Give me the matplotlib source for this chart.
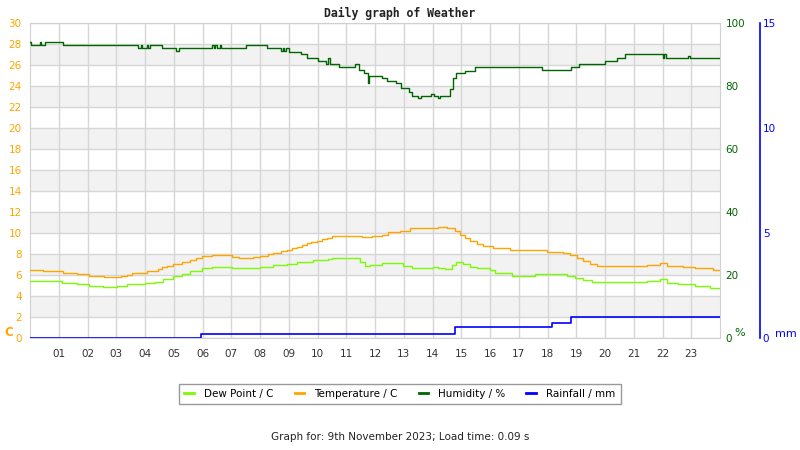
import matplotlib

matplotlib.use('Agg')
import matplotlib.pyplot as plt
from matplotlib.lines import Line2D

# readings, hour of day -> value (step changes)
temp_hours = [0, 0.46, 1.16, 1.62, 2.06, 2.2, 2.57, 3.15, 3.36, 3.54, 4.06, 4.46, 4.58, 4.75, 4.99, 5.28,
              5.57, 5.77, 5.97, 6.32, 7.01, 7.28, 7.48, 7.74, 8.0, 8.29, 8.46, 8.72, 8.93, 9.1, 9.28, 9.45,
              9.62, 9.79, 9.97, 10.14, 10.32, 10.49, 11.54, 11.88, 12.23, 12.46, 12.87, 13.22, 14.2, 14.49,
              14.78, 14.96, 15.13, 15.3, 15.54, 15.77, 16.12, 16.7, 17.97, 18.55, 18.78, 19.01, 19.25, 19.48,
              19.71, 21.45, 21.91, 22.14, 22.72, 23.13, 23.77, 24]
temp_vals = [6.48, 6.35, 6.16, 6.06, 5.93, 5.87, 5.78, 5.90, 6.03, 6.16, 6.35, 6.57, 6.73, 6.89, 7.08, 7.24,
             7.43, 7.62, 7.78, 7.87, 7.75, 7.65, 7.59, 7.75, 7.84, 7.97, 8.10, 8.25, 8.41, 8.54, 8.70, 8.86,
             9.02, 9.17, 9.27, 9.40, 9.56, 9.68, 9.59, 9.68, 9.81, 10.06, 10.22, 10.44, 10.6, 10.44,
             10.19, 9.81, 9.49, 9.24, 8.95, 8.79, 8.54, 8.41, 8.22, 8.10, 7.90, 7.65, 7.37, 7.05,
             6.86, 6.95, 7.11, 6.89, 6.73, 6.63, 6.48, 6.48]

dew_hours = [0, 1.1, 1.62, 2.06, 2.55, 3.01, 3.36, 4.0, 4.35, 4.64, 4.99, 5.28, 5.57, 5.97, 6.32, 7.01,
             7.42, 8.0, 8.46, 8.93, 9.28, 9.86, 10.38, 10.49, 11.48, 11.65, 11.83, 12.23, 12.99, 13.28,
             14.03, 14.2, 14.43, 14.67, 14.82, 15.07, 15.3, 15.54, 16.0, 16.17, 16.75, 17.57, 18.09, 18.67,
             18.96, 19.25, 19.54, 19.83, 21.45, 21.91, 22.14, 22.55, 23.13, 23.65, 24]
dew_vals = [5.43, 5.24, 5.11, 4.95, 4.86, 4.95, 5.11, 5.2, 5.37, 5.62, 5.87, 6.10, 6.38, 6.70, 6.76, 6.70,
            6.63, 6.79, 6.95, 7.05, 7.21, 7.40, 7.49, 7.59, 7.27, 6.89, 6.98, 7.11, 6.86, 6.63,
            6.79, 6.63, 6.54, 6.95, 7.27, 7.02, 6.79, 6.63, 6.48, 6.16, 5.87, 6.06, 6.13, 5.93,
            5.75, 5.52, 5.30, 5.37, 5.46, 5.59, 5.27, 5.14, 4.98, 4.79, 4.79]

hum_hours = [0.0, 0.02, 0.35, 0.39, 0.52, 1.16, 3.74, 3.86, 3.90, 4.06, 4.10, 4.18, 4.58, 5.07, 5.18, 6.33,
             6.40, 6.45, 6.52, 6.60, 6.65, 7.50, 8.23, 8.73, 8.80, 8.85, 8.90, 9.02, 9.42, 9.65, 10.0, 10.31,
             10.38, 10.42, 10.75, 11.30, 11.45, 11.62, 11.77, 11.79, 12.25, 12.43, 12.72, 12.90, 13.18, 13.30,
             13.50, 13.60, 13.95, 14.05, 14.20, 14.25, 14.62, 14.70, 14.80, 15.12, 15.49, 17.80, 18.80, 19.10,
             20.00, 20.40, 20.70, 22.00, 22.05, 22.12, 22.90, 22.95, 24.0]
hum_vals = [94.0, 93.0, 94.0, 93.0, 93.9, 93.0, 92.0, 93.0, 92.0, 93.0, 92.0, 93.0, 92.0, 91.1, 92.0, 93.0,
            92.0, 93.0, 92.0, 93.0, 92.0, 93.0, 92.0, 91.1, 92.0, 91.1, 92.0, 90.9, 90.0, 88.8, 87.8, 87.0,
            88.8, 87.0, 85.9, 86.9, 85.1, 84.2, 81.0, 83.2, 82.4, 81.7, 80.8, 79.5, 78.2, 76.8,
            76.2, 76.8, 77.5, 76.8, 76.2, 76.8, 78.9, 82.4, 84.0, 84.9, 85.9, 85.0, 85.9, 86.9,
            87.8, 88.8, 90.0, 88.9, 90.0, 88.9, 89.6, 88.9, 88.9]

rain_hours = [0, 5.94, 14.78, 18.17, 18.8, 24]
rain_vals = [0, 0.2, 0.5, 0.7, 1.0, 1.0]

hour_labels = ["%02d" % h for h in range(1, 24)]

DEW = '#7cfc00'
TEMP = '#ffa500'
HUM = '#006400'
RAIN = '#0000ff'

plt.rcParams['font.family'] = 'DejaVu Sans'
fig = plt.figure(figsize=(8, 4.5), dpi=100)
ax = fig.add_axes([0.0375, 0.2489, 0.8625, 0.7])

for lo in range(2, 30, 4):
    ax.axhspan(lo, lo + 2, color='#f2f2f2', lw=0, zorder=0)
ax.set_xlim(0, 24)
ax.set_ylim(0, 30)
ax.set_xticks(range(1, 24))
ax.set_xticklabels(hour_labels)
ax.set_yticks(range(0, 31, 2))
ax.grid(True, color='#d6d6d6', lw=1, zorder=1)
ax.set_axisbelow(True)
ax.tick_params(axis='x', length=0, pad=8, labelsize=7.5, labelcolor='#333333')
ax.tick_params(axis='y', length=0, pad=6, labelsize=7.5, labelcolor=TEMP)
for s in ax.spines.values():
    s.set_color('#d0d0d0')

ax.plot(dew_hours, dew_vals, drawstyle='steps-post', color=DEW, lw=1, zorder=3)
ax.plot(temp_hours, temp_vals, drawstyle='steps-post', color=TEMP, lw=1, zorder=3)

ax2 = ax.twinx()
ax2.set_ylim(0, 100)
ax2.set_yticks([0, 20, 40, 60, 80, 100])
ax2.tick_params(axis='y', length=0, pad=4, labelsize=7.5, labelcolor=HUM)
for s in ax2.spines.values():
    s.set_visible(False)
ax2.plot(hum_hours, hum_vals, drawstyle='steps-post', color=HUM, lw=1)

ax3 = ax.twinx()
ax3.set_ylim(0, 15)
ax3.set_yticks([0, 5, 10, 15])
ax3.spines['right'].set_position(('axes', 1.058))
for name in ['left', 'top', 'bottom']:
    ax3.spines[name].set_visible(False)
ax3.spines['right'].set_color(RAIN)
ax3.spines['right'].set_linewidth(1.2)
ax3.tick_params(axis='y', length=0, pad=2, labelsize=7.5, labelcolor=RAIN)
ax3.plot(rain_hours, rain_vals, drawstyle='steps-post', color=RAIN, lw=1.2)

fig.text(0.5, 0.971, 'Daily graph of Weather', ha='center', va='center',
         family='DejaVu Sans Mono', fontweight='bold', fontsize=8.3, color='#222222')
fig.text(0.005, 0.26, 'C', color=TEMP, fontsize=8.5, fontweight='bold', va='center')
fig.text(0.918, 0.26, '%', color=HUM, fontsize=8, va='center')
fig.text(0.969, 0.257, 'mm', color=RAIN, fontsize=8, va='center')

handles = [Line2D([], [], color=DEW, lw=2), Line2D([], [], color=TEMP, lw=2),
           Line2D([], [], color=HUM, lw=2), Line2D([], [], color=RAIN, lw=2)]
labels = ['Dew Point / C', 'Temperature / C', 'Humidity / %', 'Rainfall / mm']
leg = fig.legend(handles, labels, loc='center', bbox_to_anchor=(0.5, 0.125), ncol=4, fontsize=7.5,
                 frameon=True, fancybox=False, handlelength=0.9, handletextpad=1.0, columnspacing=2.0,
                 borderpad=0.5)
leg.get_frame().set_edgecolor('#808080')
leg.get_frame().set_linewidth(1)

fig.text(0.5, 0.029, 'Graph for: 9th November 2023; Load time: 0.09 s', ha='center', va='center',
         fontsize=7.5, color='#222222')

fig.savefig('out.png', dpi=100)
